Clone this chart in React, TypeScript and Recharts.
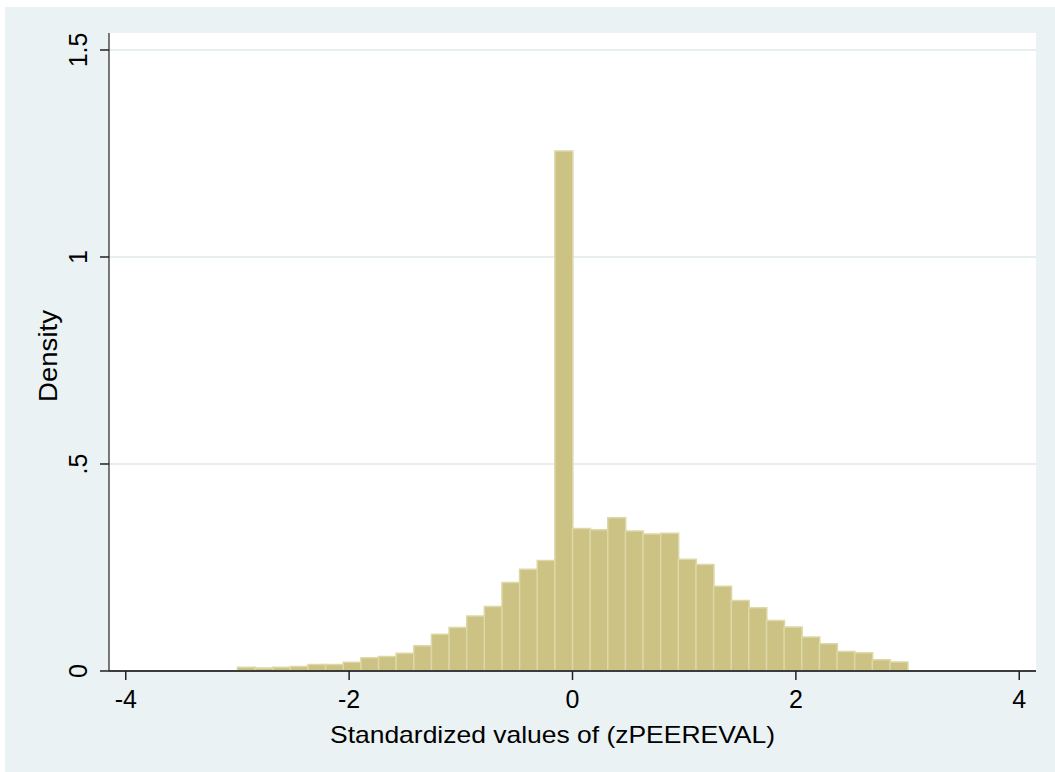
import { ComposedChart, Bar, XAxis, YAxis, CartesianGrid } from "recharts";

// histogram of standardized peer evaluation scores, 38 bins over [-3, 3]
const binLow = -3;
const binHigh = 3;
const density = [
  0.009, 0.007, 0.009, 0.011, 0.016, 0.016, 0.021, 0.032, 0.035, 0.043,
  0.061, 0.089, 0.105, 0.133, 0.156, 0.214, 0.246, 0.267, 1.256, 0.344,
  0.341, 0.37, 0.338, 0.331, 0.333, 0.27, 0.257, 0.205, 0.17, 0.153,
  0.122, 0.106, 0.082, 0.066, 0.047, 0.044, 0.027, 0.022,
];
const xTicks = [-4, -2, 0, 2, 4];
const yTicks = [0, 0.5, 1, 1.5];
const yTickLabels = ["0", ".5", "1", "1.5"];
const xTitle = "Standardized values of (zPEEREVAL)";
const yTitle = "Density";

const binWidth = (binHigh - binLow) / density.length;
const data = density.map((d, i) => ({
  x: binLow + (i + 0.5) * binWidth,
  density: d,
}));

const FONT = "'Liberation Sans', Arial, Helvetica, sans-serif";
const BG = "#eaf2f3";

function YTick(props: any) {
  const { x, y, payload } = props;
  const idx = yTicks.indexOf(payload.value);
  return (
    <text
      transform={`translate(${x},${y}) rotate(-90)`}
      textAnchor="middle"
      fontSize={25}
      fontFamily={FONT}
      fill="#000"
    >
      {yTickLabels[idx]}
    </text>
  );
}

function XTick(props: any) {
  const { x, y, payload } = props;
  return (
    <text x={x} y={y} dy="0.72em" textAnchor="middle" fontSize={25} fontFamily={FONT} fill="#000">
      {payload.value}
    </text>
  );
}

export default function App() {
  return (
    <div style={{ position: "absolute", left: 0, top: 0, width: 1055, height: 772, background: "#fff" }}>
      <div style={{ position: "absolute", left: 5, top: 7, width: 1050, height: 765, background: BG }}>
        <ComposedChart
          width={1050}
          height={765}
          data={data}
          margin={{ top: 26, right: 19, bottom: 0, left: 0 }}
          barCategoryGap={0}
          barGap={0}
        >
          <CartesianGrid
            vertical={false}
            horizontalValues={[0.5, 1, 1.5]}
            stroke="#e6eef0"
            strokeWidth={2}
            fill="#ffffff"
          />
          <XAxis
            type="number"
            dataKey="x"
            domain={[-4.15, 4.15]}
            ticks={xTicks}
            allowDataOverflow
            height={101}
            tickSize={9}
            tickMargin={10}
            tick={<XTick />}
            axisLine={{ stroke: "#3c3c3c", strokeWidth: 2 }}
            tickLine={{ stroke: "#222", strokeWidth: 1.5 }}
            label={(p: any) => {
              const vb = p.viewBox;
              return (
                <text
                  x={547.5}
                  y={vb.y + 72}
                  textAnchor="middle"
                  fontSize={24}
                  fontFamily={FONT}
                  fill="#000"
                  textLength={445}
                  lengthAdjust="spacingAndGlyphs"
                >
                  {xTitle}
                </text>
              );
            }}
          />
          <YAxis
            type="number"
            domain={[0, 1.541]}
            ticks={yTicks}
            allowDataOverflow
            width={104}
            tickSize={9}
            tickMargin={13}
            tick={<YTick />}
            axisLine={{ stroke: "#222", strokeWidth: 1.2 }}
            tickLine={{ stroke: "#222", strokeWidth: 1.5 }}
            label={() => (
              <text
                transform="translate(43,349) rotate(-90)"
                textAnchor="middle"
                dominantBaseline="central"
                fontSize={25}
                fontFamily={FONT}
                fill="#000"
                textLength={92}
                lengthAdjust="spacingAndGlyphs"
              >
                {yTitle}
              </text>
            )}
          />
          <Bar
            dataKey="density"
            fill="#cbc284"
            stroke="#ddd8a6"
            strokeWidth={1.5}
            isAnimationActive={false}
          />
        </ComposedChart>
      </div>
    </div>
  );
}
